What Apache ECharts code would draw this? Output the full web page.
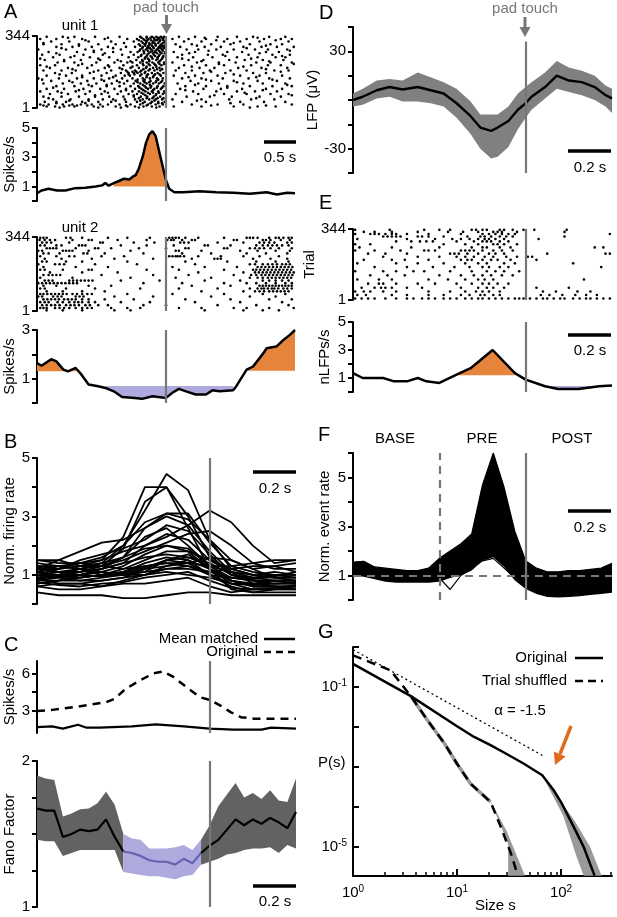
<!DOCTYPE html>
<html>
<head>
<meta charset="utf-8">
<script src="https://cdn.jsdelivr.net/npm/echarts@6/dist/echarts.min.js"></script>
<style>
html, body { margin: 0; padding: 0; background: #fff; }
#main { width: 617px; height: 917px; }
</style>
</head>
<body>
<div id="main"></div>
<script>
var FONT = "Liberation Sans, Arial, Helvetica, sans-serif";
var ORANGE = "#e6843c";
var PURPLE_BAND = "#aeaadd";
var PURPLE_LINE = "#6661b0";
var EVENT_GRAY = "#777";

// ---- A: unit 1 raster, rows of [trial, spike times (s)]
var unit1Rows = [
  [340, [-1.85,-1.6,-1.42,-1.1,-0.72,-0.4,-0.3,-0.22,-0.15,-0.08,-0.03,0.2,0.45,0.8,1.1,1.35,1.6,1.85]],
  [330, [-1.95,-1.7,-1.3,-0.95,-0.6,-0.45,-0.35,-0.27,-0.18,-0.12,-0.05,0.1,0.35,0.62,0.95,1.25,1.52,1.78,1.95]],
  [318, [-1.78,-1.5,-1.2,-0.85,-0.5,-0.38,-0.3,-0.2,-0.1,-0.02,0.28,0.55,0.9,1.15,1.45,1.9]],
  [305, [-1.9,-1.62,-1.35,-1.05,-0.78,-0.42,-0.33,-0.25,-0.16,-0.07,0.15,0.4,0.7,1.0,1.3,1.62,1.8]],
  [292, [-1.7,-1.45,-1.15,-0.9,-0.62,-0.48,-0.36,-0.28,-0.2,-0.11,-0.04,0.22,0.6,0.85,1.2,1.48,1.72,1.98]],
  [280, [-1.98,-1.55,-1.25,-1.0,-0.7,-0.4,-0.31,-0.23,-0.14,-0.06,0.32,0.5,0.78,1.05,1.38,1.58,1.88]],
  [268, [-1.82,-1.38,-1.12,-0.82,-0.55,-0.44,-0.34,-0.24,-0.17,-0.09,-0.01,0.12,0.45,0.95,1.18,1.55,1.75]],
  [255, [-1.92,-1.65,-1.28,-0.98,-0.68,-0.5,-0.38,-0.29,-0.19,-0.1,0.25,0.65,0.88,1.28,1.65,1.92]],
  [243, [-1.75,-1.48,-1.18,-0.88,-0.58,-0.43,-0.32,-0.22,-0.13,-0.05,0.18,0.42,0.72,1.1,1.42,1.7,1.85]],
  [230, [-1.88,-1.58,-1.32,-1.02,-0.75,-0.46,-0.37,-0.26,-0.15,-0.08,0.35,0.58,0.98,1.22,1.5,1.82]],
  [218, [-1.68,-1.42,-1.08,-0.8,-0.6,-0.52,-0.4,-0.3,-0.21,-0.12,-0.03,0.1,0.48,0.82,1.08,1.4,1.62,1.95]],
  [205, [-1.95,-1.72,-1.36,-1.15,-0.9,-0.66,-0.45,-0.35,-0.25,-0.16,-0.07,0.28,0.62,0.9,1.32,1.58,1.78]],
  [192, [-1.8,-1.52,-1.22,-0.95,-0.72,-0.55,-0.42,-0.31,-0.2,-0.1,0.2,0.52,0.75,1.12,1.48,1.88]],
  [180, [-1.9,-1.62,-1.4,-1.05,-0.85,-0.62,-0.48,-0.38,-0.27,-0.18,-0.09,0.15,0.4,0.68,1.0,1.25,1.68,1.9]],
  [168, [-1.72,-1.46,-1.18,-0.92,-0.7,-0.58,-0.5,-0.44,-0.33,-0.22,-0.13,-0.04,0.3,0.58,0.92,1.35,1.55]],
  [155, [-1.85,-1.55,-1.3,-1.0,-0.78,-0.64,-0.56,-0.4,-0.3,-0.19,-0.08,0.12,0.45,0.8,1.15,1.45,1.8]],
  [142, [-1.98,-1.66,-1.38,-1.12,-0.88,-0.68,-0.52,-0.36,-0.25,-0.14,-0.05,0.25,0.55,0.88,1.28,1.6,1.92]],
  [130, [-1.78,-1.5,-1.22,-0.96,-0.76,-0.6,-0.47,-0.35,-0.24,-0.15,-0.06,0.38,0.7,1.05,1.42,1.72]],
  [118, [-1.9,-1.6,-1.32,-1.08,-0.84,-0.65,-0.5,-0.4,-0.3,-0.2,-0.11,-0.02,0.18,0.5,0.82,1.2,1.5,1.85]],
  [105, [-1.7,-1.42,-1.15,-0.92,-0.72,-0.55,-0.43,-0.33,-0.23,-0.13,-0.04,0.3,0.62,0.95,1.3,1.65,1.95]],
  [92, [-1.85,-1.58,-1.28,-1.02,-0.8,-0.62,-0.48,-0.38,-0.28,-0.18,-0.08,0.22,0.58,0.85,1.18,1.55,1.8]],
  [80, [-1.95,-1.68,-1.4,-1.18,-0.95,-0.7,-0.52,-0.42,-0.32,-0.22,-0.12,-0.03,0.42,0.78,1.1,1.38,1.72]],
  [68, [-1.8,-1.52,-1.25,-1.0,-0.75,-0.58,-0.45,-0.35,-0.25,-0.15,-0.05,0.15,0.5,0.9,1.25,1.62,1.9]],
  [55, [-1.9,-1.62,-1.35,-1.1,-0.88,-0.66,-0.5,-0.39,-0.29,-0.19,-0.09,0.32,0.68,1.02,1.45,1.78]],
  [42, [-1.75,-1.48,-1.2,-0.98,-0.82,-0.64,-0.48,-0.36,-0.26,-0.16,-0.06,0.1,0.55,0.98,1.32,1.68]],
  [30, [-1.88,-1.7,-1.55,-1.3,-1.05,-0.85,-0.62,-0.45,-0.33,-0.22,-0.12,-0.02,0.25,0.62,1.15,1.52,1.85]],
  [18, [-1.95,-1.82,-1.6,-1.45,-1.32,-1.15,-1.02,-0.9,-0.72,-0.55,-0.4,-0.28,-0.16,-0.05,0.4,0.8,1.2,1.95]],
  [8, [-1.85,-1.72,-1.58,-1.42,-1.12,-0.98,-0.78,-0.6,-0.48,-0.35,-0.22,-0.1,0.12,0.55,1.05,1.42,1.7]]
];
// extra spikes, offset rows, so the raster is less regular
var unit1Extra = [
  [336, [-1.52,-0.9,-0.38,-0.3,-0.24,-0.19,-0.13,-0.1,-0.06,-0.01,0.6,1.42]],
  [324, [-1.25,-0.42,-0.33,-0.29,-0.23,-0.17,-0.14,-0.09,-0.04,0.78,1.7]],
  [311, [-1.9,-0.65,-0.36,-0.31,-0.26,-0.21,-0.18,-0.12,-0.05,-0.01,1.05]],
  [298, [-1.35,-0.4,-0.32,-0.27,-0.22,-0.16,-0.09,-0.06,-0.02,0.48,1.55]],
  [286, [-1.62,-0.82,-0.37,-0.29,-0.25,-0.19,-0.12,-0.08,-0.03,1.25]],
  [274, [-1.12,-0.41,-0.35,-0.28,-0.21,-0.16,-0.11,-0.05,0.66,1.92]],
  [262, [-1.7,-0.95,-0.34,-0.27,-0.2,-0.14,-0.07,-0.02,0.36,1.45]],
  [249, [-1.42,-0.39,-0.3,-0.24,-0.17,-0.11,-0.04,0.92,1.8]],
  [236, [-1.95,-1.05,-0.33,-0.28,-0.21,-0.13,-0.06,0.25,1.32]],
  [224, [-1.58,-0.7,-0.55,-0.36,-0.26,-0.1,0.55,1.6]],
  [211, [-1.3,-0.36,-0.27,-0.18,-0.1,-0.03,0.82,1.98]],
  [198, [-1.85,-0.88,-0.52,-0.3,-0.15,0.4,1.2]],
  [186, [-1.45,-0.68,-0.35,-0.25,-0.14,-0.06,1.55]],
  [174, [-1.12,-0.6,-0.52,-0.46,-0.4,-0.32,0.7,1.78]],
  [161, [-1.65,-0.58,-0.49,-0.38,-0.28,-0.17,-0.1,1.05]],
  [148, [-1.3,-0.82,-0.3,-0.2,0.35,1.4]],
  [136, [-1.92,-1.0,-0.44,-0.33,-0.12,0.62,1.65]],
  [124, [-1.45,-0.72,-0.44,-0.33,-0.26,-0.16,-0.08,1.1]],
  [111, [-1.2,-0.92,-0.36,-0.25,0.45,1.88]],
  [98, [-1.75,-0.41,-0.31,-0.24,-0.14,-0.06,0.95]],
  [86, [-1.35,-0.62,-0.35,-0.2,0.3,1.5]],
  [74, [-1.62,-0.9,-0.38,-0.28,-0.2,-0.11,-0.02,1.22]],
  [62, [-1.1,-0.5,-0.32,-0.16,0.75,1.95]],
  [48, [-1.82,-0.42,-0.3,-0.21,-0.13,-0.04,1.4]],
  [36, [-1.5,-1.2,-0.78,-0.4,-0.18,0.48]],
  [24, [-1.7,-1.25,-0.36,-0.24,-0.12,-0.06,1.0]],
  [13, [-1.9,-1.5,-1.38,-1.22,-0.62,-0.3,0.7,1.55]],
  [3, [-1.65,-1.05,-0.7,-0.42,-0.15,1.3]]
];
var unit1RateT = [-2.0,-1.93,-1.82,-1.69,-1.56,-1.41,-1.25,-1.09,-0.99,-0.94,-0.89,-0.81,-0.73,-0.65,-0.57,-0.52,-0.47,-0.42,-0.36,-0.31,-0.26,-0.21,-0.16,-0.1,-0.05,0,0.05,0.13,0.26,0.52,0.78,1.04,1.3,1.56,1.72,1.88,2.0];
var unit1RateV = [0.53,0.72,0.84,0.72,0.72,0.88,0.91,1.0,1.07,1.23,1.05,1.23,1.37,1.53,1.47,1.65,1.77,2.23,3.05,3.98,4.56,4.79,4.44,3.28,2.35,1.42,0.84,0.6,0.6,0.67,0.6,0.56,0.49,0.6,0.44,0.56,0.53];

// ---- A: unit 2
var unit2Rows = [
  [340, [-1.95,-1.9,-1.85,-1.55,-1.48,-1.3,-0.9,-0.6,-0.25,0.05,0.1,0.15,0.2,0.3,0.5,0.9,1.25,1.3,1.35,1.42,1.6,1.7,1.75,1.82,1.9,1.95]],
  [330, [-1.96,-1.88,-1.8,-1.72,-1.45,-1.2,-1.15,-0.75,-0.3,0.02,0.08,0.12,0.25,0.4,0.45,1.05,1.1,1.5,1.55,1.62,1.78,1.92]],
  [318, [-1.92,-1.85,-1.78,-1.5,-1.02,-0.98,-0.5,-0.18,0.22,0.28,0.35,0.8,1.2,1.45,1.52,1.6,1.68,1.88,1.95]],
  [305, [-1.95,-1.88,-1.7,-1.62,-1.35,-1.3,-1.25,-0.7,-0.3,0.12,0.6,0.65,1.0,1.4,1.5,1.58,1.65,1.72,1.8,1.9]],
  [292, [-1.85,-1.8,-1.75,-1.7,-1.4,-1.1,-1.05,-0.85,-0.42,0.0,0.3,0.35,0.9,0.95,1.3,1.38,1.45,1.52,1.62,1.75,1.95]],
  [280, [-1.98,-1.92,-1.6,-1.55,-1.5,-1.45,-1.2,-0.55,0.15,0.2,0.55,1.15,1.42,1.7,1.92]],
  [268, [-1.9,-1.82,-1.65,-1.28,-1.22,-0.95,-0.35,0.25,0.7,1.25,1.55,1.88]],
  [255, [-1.95,-1.7,-1.5,-1.42,-1.0,-0.65,0.05,0.1,0.15,0.18,0.22,0.28,0.5,0.85,1.2,1.45,1.75]],
  [243, [-1.88,-1.62,-1.15,-0.8,-0.2,0.4,0.75,0.8,0.85,1.35,1.62,1.88]],
  [230, [-1.92,-1.85,-1.55,-1.3,-0.6,0.3,0.95,1.4,1.7,1.9]],
  [218, [-1.98,-1.72,-1.65,-1.58,-1.1,-0.45,0.45,1.3,1.38,1.5,1.58,1.65,1.72,1.8,1.86,1.92]],
  [205, [-1.9,-1.4,-0.9,0.1,0.6,1.1,1.42,1.48,1.54,1.6,1.66,1.72,1.78,1.84,1.9,1.96]],
  [192, [-1.95,-1.88,-1.6,-1.2,-1.15,-0.3,0.2,0.9,1.35,1.4,1.46,1.52,1.58,1.64,1.7,1.76,1.82,1.88,1.94]],
  [180, [-1.8,-1.3,-0.75,0.5,1.2,1.38,1.44,1.5,1.56,1.62,1.68,1.74,1.8,1.86,1.92,1.98]],
  [168, [-1.9,-1.82,-1.76,-1.7,-1.64,-1.0,-0.2,0.35,1.05,1.32,1.4,1.48,1.54,1.6,1.66,1.72,1.78,1.84,1.9,1.96]],
  [155, [-1.95,-1.45,-0.55,0.15,0.7,1.3,1.42,1.5,1.58,1.64,1.7,1.76,1.82,1.88,1.94]],
  [142, [-1.88,-1.82,-1.76,-1.5,-1.44,-1.38,-1.32,-1.26,-1.2,-1.14,-0.7,-0.1,0.6,1.15,1.5,1.6,1.7,1.8,1.9]],
  [130, [-1.98,-1.92,-1.86,-1.8,-1.74,-1.68,-1.62,-1.56,-1.5,-1.44,-1.38,-0.35,0.25,0.9,1.25,1.4,1.55,1.7,1.85,1.95]],
  [118, [-1.9,-1.7,-1.2,-0.85,0.4,1.0,1.45,1.5,1.55,1.6,1.65,1.7,1.75,1.8,1.85,1.9,1.95]],
  [105, [-1.95,-1.88,-1.55,-1.1,-0.4,0.2,0.8,1.3,1.42,1.48,1.52,1.58,1.64,1.68,1.74,1.82,1.88,1.95]],
  [92, [-1.85,-1.6,-1.3,-0.95,0.55,1.2,1.38,1.45,1.52,1.6,1.66,1.72,1.78,1.84,1.9]],
  [80, [-1.95,-1.9,-1.84,-1.78,-1.72,-1.66,-1.6,-1.54,-1.45,-1.38,-1.3,-1.22,-1.15,-0.6,0.1,0.9,1.5,1.85]],
  [68, [-1.98,-1.92,-1.75,-1.68,-1.62,-1.4,-1.34,-1.28,-0.8,-0.2,0.7,1.3,1.7]],
  [55, [-1.9,-1.84,-1.78,-1.72,-1.66,-1.58,-1.52,-1.46,-1.4,-1.3,-1.2,-0.95,-0.5,0.3,1.0,1.6,1.95]],
  [42, [-1.95,-1.88,-1.82,-1.68,-1.6,-1.5,-1.42,-1.36,-1.3,-1.2,-1.1,-0.7,-0.25,0.45,1.15,1.8]],
  [28, [-1.92,-1.85,-1.78,-1.72,-1.65,-1.55,-1.48,-1.42,-1.35,-1.25,-1.18,-1.05,-0.9,-0.35,0.0,0.8,1.4,1.9]],
  [15, [-1.95,-1.9,-1.85,-1.72,-1.65,-1.58,-1.5,-1.4,-1.3,-1.22,-1.15,-0.85,-0.6,-0.4,0.2,0.55,1.05,1.25,1.6,1.98]],
  [4, [-1.85,-1.6,-1.3,-0.8,-0.55,0.6,1.2,1.5,1.75]]
];
var unit2RateT = [-2.0,-1.93,-1.78,-1.7,-1.59,-1.52,-1.46,-1.4,-1.33,-1.2,-1.05,-0.94,-0.81,-0.68,-0.53,-0.37,-0.21,0,0.1,0.2,0.31,0.46,0.62,0.72,0.83,1.04,1.09,1.25,1.35,1.51,1.56,1.71,1.82,1.92,2.0];
var unit2RateV = [1.64,1.53,1.8,1.71,1.37,1.3,1.37,1.44,1.23,0.76,0.69,0.62,0.48,0.25,0.22,0.17,0.28,0.21,0.42,0.58,0.48,0.35,0.35,0.52,0.48,0.52,0.69,1.37,1.5,2.05,2.25,2.32,2.59,2.8,3.0];

// ---- B: normalized firing rate of single units
var bT = [-0.8,-0.7,-0.6,-0.5,-0.4,-0.3,-0.2,-0.1,0,0.1,0.2,0.3,0.4];
var bLines = [
  [1.3,1.2,1.4,1.6,2.0,3.2,4.45,3.9,2.2,1.2,1.0,0.9,0.9],
  [1.1,1.2,1.3,1.5,2.3,4.0,4.0,3.0,1.6,1.0,0.8,0.8,0.7],
  [0.9,1.0,1.1,1.3,1.9,3.5,4.0,2.6,1.2,0.8,0.7,0.8,0.8],
  [1.0,1.0,1.2,1.4,2.0,2.8,3.1,3.1,2.1,1.3,1.1,1.0,0.9],
  [1.2,1.5,1.8,2.1,2.2,2.6,3.1,2.9,2.2,1.5,1.2,1.3,1.1],
  [1.4,1.3,1.4,1.5,1.8,2.0,2.3,2.7,3.2,2.8,2.0,1.4,1.5],
  [1.0,1.1,1.2,1.3,1.5,1.8,2.1,2.4,2.5,2.0,1.4,1.2,1.2],
  [0.8,0.9,1.0,1.2,1.6,2.6,3.0,2.7,1.8,1.1,0.7,0.6,0.6],
  [1.5,1.5,1.3,1.3,1.6,2.3,2.6,2.0,1.3,0.9,0.8,0.7,0.7],
  [1.2,1.1,1.1,1.2,1.4,2.0,2.4,2.2,1.5,1.1,0.9,0.9,0.8],
  [0.9,1.0,1.0,1.1,1.3,1.7,2.0,1.9,1.3,0.8,0.6,0.6,0.5],
  [0.7,0.8,0.9,1.0,1.2,1.5,1.8,1.8,1.2,0.7,0.5,0.5,0.5],
  [1.1,1.0,1.1,1.2,1.4,1.6,1.7,1.6,1.3,1.1,1.0,1.1,1.0],
  [0.6,0.7,0.7,0.8,0.9,1.2,1.5,1.4,1.0,0.6,0.4,0.4,0.4],
  [1.0,1.0,0.9,1.0,1.1,1.3,1.4,1.3,1.1,0.9,0.8,0.8,0.8],
  [0.4,0.3,0.3,0.3,0.2,0.2,0.3,0.4,0.4,0.3,0.3,0.3,0.3],
  [0.6,0.5,0.5,0.6,0.7,0.7,0.8,0.9,0.6,0.4,0.5,0.5,0.5],
  [1.3,1.3,1.2,1.1,1.0,1.1,1.2,1.2,1.1,1.2,1.3,1.3,1.4],
  [1.5,1.4,1.4,1.3,1.2,1.3,1.4,1.4,1.3,1.3,1.4,1.5,1.5],
  [0.8,0.8,0.8,0.9,1.0,1.0,1.1,1.0,0.9,0.7,0.7,0.7,0.7],
  [1.0,0.9,0.8,0.8,0.9,1.0,1.2,1.3,1.0,0.9,0.9,1.0,1.0],
  [0.9,0.7,0.7,0.6,0.8,1.0,1.3,1.5,1.2,0.8,0.6,0.6,0.6],
  [1.2,1.2,1.3,1.4,1.6,1.9,2.0,1.8,1.5,1.2,1.0,1.0,1.0],
  [0.7,0.8,1.0,1.1,1.0,1.1,1.5,1.7,1.2,0.5,0.4,0.5,0.6],
  [1.1,1.3,1.2,1.0,1.0,1.2,1.3,1.4,1.6,1.5,1.2,0.9,0.9],
  [1.0,1.2,1.5,1.7,1.9,2.2,2.7,2.5,1.7,1.0,0.9,0.8,0.8],
  [0.85,0.95,0.9,1.0,1.1,1.4,1.6,1.5,1.0,0.7,0.65,0.7,0.75],
  [1.25,1.1,1.0,0.95,1.05,1.25,1.5,1.6,1.4,1.0,0.85,0.95,1.1],
  [0.75,0.65,0.6,0.7,0.75,0.9,1.0,1.1,0.8,0.55,0.5,0.55,0.65]
];

// ---- C: spike rates and Fano factor
var cOrigT = [-0.8,-0.73,-0.61,-0.48,-0.44,-0.39,-0.325,-0.26,-0.216,-0.17,-0.106,-0.044,0,0.05,0.097,0.144,0.206,0.4];
var cOrigV = [2.95,3.05,3.32,3.67,3.94,4.74,5.41,6.0,6.16,5.73,4.87,4.07,3.86,3.4,2.87,2.46,2.33,2.33];
var cMatchT = [-0.8,-0.73,-0.68,-0.61,-0.57,-0.51,-0.36,-0.25,-0.12,0,0.11,0.24,0.285,0.4];
var cMatchV = [1.66,1.71,1.53,1.85,1.61,1.61,1.71,1.87,1.71,1.53,1.45,1.45,1.61,1.53];
var fanoT = [-0.8,-0.76,-0.72,-0.68,-0.64,-0.6,-0.56,-0.52,-0.48,-0.44,-0.4,-0.36,-0.32,-0.28,-0.24,-0.2,-0.16,-0.12,-0.08,-0.04,0,0.04,0.08,0.12,0.16,0.2,0.24,0.28,0.32,0.36,0.4];
var fanoMean = [1.675,1.66,1.66,1.48,1.5,1.53,1.52,1.53,1.6,1.48,1.38,1.37,1.35,1.32,1.31,1.31,1.29,1.33,1.3,1.37,1.42,1.46,1.53,1.6,1.56,1.6,1.57,1.61,1.58,1.54,1.65];
var fanoHi = [1.9,1.88,1.87,1.62,1.64,1.67,1.675,1.71,1.79,1.7,1.5,1.47,1.46,1.4,1.4,1.4,1.41,1.425,1.39,1.46,1.56,1.69,1.77,1.85,1.75,1.78,1.74,1.8,1.73,1.72,1.88];
var fanoLo = [1.46,1.45,1.45,1.35,1.37,1.39,1.39,1.39,1.39,1.39,1.24,1.23,1.22,1.21,1.21,1.2,1.19,1.21,1.22,1.29,1.31,1.33,1.36,1.37,1.39,1.4,1.4,1.41,1.37,1.425,1.4];

// ---- D: LFP
var lfpT = [-0.8,-0.755,-0.69,-0.63,-0.57,-0.5,-0.44,-0.38,-0.32,-0.255,-0.21,-0.16,-0.13,-0.08,-0.036,0,0.027,0.09,0.144,0.2,0.26,0.32,0.37,0.4];
var lfpMean = [0,2,6,8,6.5,8,6,4,-2,-10,-17,-19,-17,-13,-6,-2,2,8,15,12,11,8,3,1];
var lfpHi = [4,7,12,13,12,17,14,11,7,-1,-9,-9,-9,-4,4,8,11,17,24,20,18,15,9,7];
var lfpLo = [-4,-3,1,2,-1,-1,-2,-4,-11,-21,-30,-36,-35,-29,-18,-11,-6,1,7,5,3,0,-4,-8];

// ---- E: nLFP raster and rate
var nlfpRows = [
  [340, [-0.79,-0.63,-0.47,-0.4,-0.35,-0.25,-0.23,-0.2,-0.18,-0.12,-0.1,-0.06,-0.01,0.04,0.19]],
  [330, [-0.75,-0.7,-0.62,-0.5,-0.36,-0.29,-0.22,-0.15,-0.13,-0.11,-0.04,0.18]],
  [320, [-0.79,-0.72,-0.7,-0.68,-0.65,-0.62,-0.6,-0.55,-0.45,-0.3,-0.2,-0.17,-0.14,-0.11,-0.08,-0.05,0.39]],
  [308, [-0.66,-0.64,-0.62,-0.6,-0.58,-0.5,-0.48,-0.45,-0.38,-0.27,-0.21,-0.19,-0.16,-0.12,-0.09,-0.06,0.18]],
  [296, [-0.78,-0.55,-0.42,-0.34,-0.3,-0.26,-0.22,-0.19,-0.17,-0.14,-0.1,0.06]],
  [284, [-0.6,-0.53,-0.49,-0.46,-0.43,-0.32,-0.24,-0.2,-0.18,-0.16,-0.12,-0.08]],
  [270, [-0.79,-0.72,-0.38,-0.28,-0.22,-0.15,-0.13,-0.1,-0.04]],
  [255, [-0.77,-0.62,-0.53,-0.4,-0.25,-0.2,-0.18,-0.12,-0.07,0.32,0.36]],
  [240, [-0.79,-0.7,-0.58,-0.47,-0.45,-0.42,-0.3,-0.28,-0.26,-0.24,-0.2,-0.15,-0.11,-0.06]],
  [225, [-0.73,-0.65,-0.55,-0.35,-0.33,-0.31,-0.27,-0.22,-0.17,-0.14,-0.1,0.1,0.37,0.39]],
  [210, [-0.66,-0.5,-0.4,-0.32,-0.28,-0.24,-0.19,-0.15,-0.09,-0.04,0.01,0.03]],
  [195, [-0.75,-0.62,-0.56,-0.45,-0.3,-0.27,-0.25,-0.2,-0.16,-0.13,-0.07,0.05]],
  [178, [-0.78,-0.6,-0.5,-0.38,-0.28,-0.22,-0.18,-0.1,-0.05,0.22]],
  [160, [-0.7,-0.55,-0.43,-0.33,-0.26,-0.2,-0.17,-0.12,-0.08,0.35]],
  [140, [-0.79,-0.66,-0.6,-0.52,-0.47,-0.35,-0.25,-0.18,-0.14,-0.1,-0.03]],
  [120, [-0.72,-0.64,-0.56,-0.4,-0.3,-0.24,-0.2,-0.16,-0.11,-0.06]],
  [100, [-0.78,-0.68,-0.62,-0.45,-0.36,-0.28,-0.22,-0.19,-0.15,0.27]],
  [80, [-0.73,-0.68,-0.66,-0.6,-0.5,-0.42,-0.32,-0.25,-0.2,-0.17,-0.13,-0.08]],
  [60, [-0.76,-0.7,-0.67,-0.65,-0.62,-0.55,-0.48,-0.3,-0.22,-0.18,-0.15,-0.1,0.05,0.2]],
  [42, [-0.79,-0.75,-0.72,-0.66,-0.6,-0.45,-0.35,-0.28,-0.23,-0.2,-0.17,-0.12,0.08,0.14,0.24,0.3]],
  [25, [-0.78,-0.74,-0.62,-0.55,-0.45,-0.38,-0.3,-0.26,-0.21,-0.19,-0.15,-0.12,0.07,0.11,0.17,0.23,0.28,0.33]],
  [8, [-0.79,-0.76,-0.73,-0.7,-0.65,-0.6,-0.55,-0.52,-0.48,-0.45,-0.42,-0.38,-0.35,-0.32,-0.28,-0.25,-0.22,-0.2,-0.17,-0.14,-0.11,-0.08,-0.05,-0.03,-0.01,0.02,0.05,0.08,0.1,0.13,0.16,0.18,0.22,0.25,0.28,0.3,0.33,0.36,0.39]]
];
var nlfpRateT = [-0.8,-0.755,-0.66,-0.61,-0.55,-0.5,-0.46,-0.4,-0.32,-0.255,-0.153,-0.05,0,0.09,0.15,0.245,0.34,0.4];
var nlfpRateV = [1.35,1.0,1.0,0.76,0.76,1.0,0.76,0.65,1.24,1.7,3.0,1.35,0.88,0.41,0.22,0.22,0.41,0.46];

// ---- F: normalized event rate (envelope of all sites plus an outlier)
var fT = [-0.8,-0.75,-0.7,-0.65,-0.6,-0.55,-0.5,-0.45,-0.4,-0.35,-0.3,-0.25,-0.2,-0.15,-0.1,-0.05,0,0.05,0.1,0.15,0.2,0.25,0.3,0.35,0.4];
var fUpper = [1.55,1.58,1.35,1.3,1.25,1.2,1.2,1.3,1.7,2.0,2.3,2.7,4.7,6.0,4.6,2.8,1.6,1.3,1.15,1.15,1.2,1.2,1.25,1.3,1.5];
var fLower = [1.0,0.95,0.85,0.75,0.7,0.7,0.7,0.7,0.75,0.9,1.0,1.2,1.6,1.75,1.35,0.8,0.45,0.25,0.12,0.1,0.12,0.15,0.2,0.25,0.3];
var fDip = [1.2,1.15,1.0,0.95,0.9,0.85,0.8,0.8,0.9,0.43,1.0,1.3,1.6,1.7,1.3,0.9,0.6,0.45,0.4,0.45,0.6,0.8,1.0,1.1,1.42];

// ---- G: avalanche size distributions
var gOrigS = [1,3.6,10,14.6,21,30,44,66,85,102,132,165,210];
var gOrigP = [0.38,0.059,0.0104,0.0056,0.0035,0.0021,0.0012,6.2e-4,2.6e-4,1.2e-4,3.2e-5,1e-5,1.9e-6];
var gShufS = [1,2.3,3.6,5.2,7.6,10,13.5,21,26.3,33,38];
var gShufP = [0.62,0.26,0.059,0.0147,0.0038,0.0012,3.8e-4,1.33e-4,3.2e-5,6.8e-6,2.1e-6];
var gAlphaS = [1,68];
var gAlphaP = [0.86,0.00186];
var gOrigBandS = [66,135,190,245,165,140,105,66];
var gOrigBandP = [6.2e-4,4.5e-5,1e-5,1.9e-6,1.9e-6,6e-6,6e-5,6.2e-4];
var gShufBandS = [21,30,45,31,31,21];
var gShufBandP = [1.4e-4,2.5e-5,1.9e-6,1.9e-6,1.2e-5,1.4e-4];
var gMajorTicks = [1,10,100];
var gMinorTicks = [2,3,4,5,6,7,8,9,20,30,40,50,60,70,80,90,200,300];
var gYTicks = [1,0.1,0.01,0.001,1e-4,1e-5];
var gYLabels = [0.1,1e-5];

// ---------- helpers
function pairs(xs, ys) { return xs.map(function (x, i) { return [x, ys[i]]; }); }
function logPairs(xs, ys) { return xs.map(function (x, i) { return [Math.log10(x), Math.log10(ys[i])]; }); }
function rasterData(rows) {
  var d = [];
  rows.forEach(function (r) { r[1].forEach(function (t) { d.push([t, r[0]]); }); });
  return d;
}
function bandPts(xs, lo, hi) {
  var p = [], i;
  for (i = 0; i < xs.length; i++) p.push([xs[i], hi[i]]);
  for (i = xs.length - 1; i >= 0; i--) p.push([xs[i], lo[i]]);
  return p;
}
function slice(arr, a, b) { return arr.slice(a, b + 1); }
function levelPts(xs, ys, t1, t2, level) {
  var p = [[t1, level]];
  xs.forEach(function (x, i) { if (x >= t1 - 1e-9 && x <= t2 + 1e-9) p.push([x, ys[i]]); });
  p.push([t2, level]);
  return p;
}
function poly(gi, pts, color, z) {
  return {
    type: 'custom', xAxisIndex: gi, yAxisIndex: gi, z: z || 1, silent: true,
    data: [pts[0]],
    renderItem: function (params, api) {
      return {
        type: 'polygon',
        shape: { points: pts.map(function (p) { return api.coord(p); }) },
        style: { fill: color }
      };
    }
  };
}
function line(gi, data, color, width, dash, z, extra) {
  var s = {
    type: 'line', xAxisIndex: gi, yAxisIndex: gi, data: data, symbol: 'none', silent: true,
    z: z || 3, lineStyle: { color: color, width: width, type: dash || 'solid' }
  };
  return Object.assign(s, extra || {});
}
function raster(gi, rows, extra) {
  return Object.assign({
    type: 'scatter', xAxisIndex: gi, yAxisIndex: gi, data: rasterData(rows), symbol: 'circle',
    symbolSize: 2.6, silent: true, z: 2, itemStyle: { color: '#000', opacity: 1 }
  }, extra || {});
}
function evLine(data) {
  return {
    silent: true, symbol: ['none', 'none'], animation: false, label: { show: false },
    lineStyle: { color: EVENT_GRAY, width: 2.2, type: 'solid' },
    data: data || [{ xAxis: 0 }]
  };
}
function yAx(gi, min, max, ticks, labels, name, gap) {
  return {
    gridIndex: gi, type: 'value', min: min, max: max,
    axisLine: { show: true, onZero: false, lineStyle: { color: '#000', width: 2 } },
    axisTick: { show: true, length: 5, customValues: ticks, lineStyle: { color: '#000', width: 2 } },
    axisLabel: { show: true, customValues: labels, color: '#000', fontSize: 15, fontFamily: FONT, margin: 7 },
    splitLine: { show: false },
    name: name, nameLocation: 'middle', nameGap: gap, nameRotate: 90,
    nameTextStyle: { color: '#000', fontSize: 15, fontFamily: FONT }
  };
}

// ---------- layout
var gRect = { left: 353, top: 647, width: 259, height: 229 };
var grids = [
  { left: 37, top: 36, width: 258, height: 72 },    // 0 unit 1 raster
  { left: 37, top: 128, width: 258, height: 73 },   // 1 unit 1 rate
  { left: 37, top: 237, width: 258, height: 74 },   // 2 unit 2 raster
  { left: 37, top: 330, width: 258, height: 73 },   // 3 unit 2 rate
  { left: 37, top: 458, width: 259, height: 146 },  // 4 B
  { left: 37, top: 661, width: 259, height: 72 },   // 5 C spikes
  { left: 37, top: 761, width: 259, height: 146 },  // 6 C fano
  { left: 353, top: 27, width: 259, height: 146 },  // 7 D
  { left: 353, top: 229, width: 259, height: 71 },  // 8 E raster
  { left: 353, top: 322, width: 259, height: 70 },  // 9 E rate
  { left: 353, top: 453, width: 259, height: 147 }, // 10 F
  gRect,                                            // 11 G
  gRect                                             // 12 G minor ticks
].map(function (g) { return Object.assign({ outerBoundsMode: 'none', containLabel: false }, g); });

var xRanges = [[-2, 2], [-2, 2], [-2, 2], [-2, 2], [-0.8, 0.4], [-0.8, 0.4], [-0.8, 0.4], [-0.8, 0.4], [-0.8, 0.4], [-0.8, 0.4], [-0.8, 0.4]];
var xAxes = xRanges.map(function (r, i) {
  return { gridIndex: i, type: 'value', min: r[0], max: r[1], show: false };
});
var gxMax = 2.49;
var supRich = {
  b: { fontSize: 15, fontFamily: FONT, color: '#000', lineHeight: 18 },
  s: { fontSize: 10, fontFamily: FONT, color: '#000', verticalAlign: 'top', lineHeight: 18, padding: [0, 0, 8, 0] }
};
xAxes.push({
  gridIndex: 11, type: 'value', min: 0, max: gxMax, position: 'bottom',
  axisLine: { show: true, onZero: false, lineStyle: { color: '#000', width: 2 } },
  axisTick: { show: true, inside: true, length: 7, customValues: gMajorTicks.map(Math.log10), lineStyle: { color: '#000', width: 2 } },
  axisLabel: {
    customValues: gMajorTicks.map(Math.log10), margin: 8,
    formatter: function (v) { return '{b|10}{s|' + Math.round(v) + '}'; }, rich: supRich
  },
  splitLine: { show: false }
});
xAxes.push({
  gridIndex: 12, type: 'value', min: 0, max: gxMax, position: 'bottom',
  axisLine: { show: false, onZero: false },
  axisTick: { show: true, inside: true, length: 4, customValues: gMinorTicks.map(Math.log10), lineStyle: { color: '#000', width: 1.5 } },
  axisLabel: { show: false }, splitLine: { show: false }
});

var yAxes = [
  yAx(0, 1, 344, [1, 344], [1, 344], 'Trial', 10),
  yAx(1, 0, 5, [0, 1, 2, 3, 4, 5], [1, 3, 5], 'Spikes/s', 16),
  yAx(2, 1, 344, [1, 344], [1, 344], 'Trial', 10),
  yAx(3, 0, 3, [0, 1, 2, 3], [1, 3], 'Spikes/s', 17),
  yAx(4, 0, 5, [0, 1, 2, 3, 4, 5], [1, 3, 5], 'Norm. firing rate', 17),
  yAx(5, 1.18, 7, [3, 4.5, 6], [3, 6], 'Spikes/s', 18),
  yAx(6, 1, 2, [1, 1.25, 1.5, 1.75, 2], [1, 2], 'Fano Factor', 14),
  yAx(7, -45, 45, [-45, -30, -15, 0, 15, 30, 45], [-30, 30], 'LFP (\u03bcV)', 20),
  yAx(8, 1, 344, [1, 344], [1, 344], 'Trial', 10),
  yAx(9, 0, 5, [0, 1, 2, 3, 4, 5], [1, 3, 5], 'nLFPs/s', 21),
  yAx(10, 0, 6, [0, 1, 2, 3, 4, 5, 6], [1, 3, 5], 'Norm. event rate', 21),
  {
    gridIndex: 11, type: 'value', min: -5.73, max: 0,
    axisLine: { show: true, onZero: false, lineStyle: { color: '#000', width: 2 } },
    axisTick: { show: true, inside: true, length: 6, customValues: gYTicks.map(Math.log10), lineStyle: { color: '#000', width: 2 } },
    axisLabel: {
      customValues: gYLabels.map(Math.log10), margin: 6,
      formatter: function (v) { return '{b|10}{s|' + Math.round(v) + '}'; }, rich: supRich
    },
    splitLine: { show: false }
  },
  { gridIndex: 12, type: 'value', min: -5.73, max: 0, show: false }
];

// ---------- series
var series = [];
// A unit 1
series.push(raster(0, unit1Rows, { markLine: evLine() }));
series.push(raster(0, unit1Extra));
series.push(poly(1, levelPts(unit1RateT, unit1RateV, -0.81, 0, 1.0), ORANGE));
series.push(line(1, pairs(unit1RateT, unit1RateV), '#000', 2.5, null, 3, { markLine: evLine() }));
// A unit 2
series.push(raster(2, unit2Rows, { markLine: evLine() }));
series.push(poly(3, levelPts(unit2RateT, unit2RateV, -2.0, -1.33, 1.3), ORANGE));
series.push(poly(3, levelPts(unit2RateT, unit2RateV, 1.25, 2.0, 1.33), ORANGE));
series.push(poly(3, levelPts(unit2RateT, unit2RateV, -0.94, 1.04, 0.7), PURPLE_BAND));
series.push(line(3, pairs(unit2RateT, unit2RateV), '#000', 2.5, null, 3, { markLine: evLine() }));
// B
bLines.forEach(function (vals, k) {
  series.push(line(4, pairs(bT, vals), '#000', 1.8, null, 3, k === 0 ? { markLine: evLine() } : null));
});
// C spikes
series.push(line(5, pairs(cOrigT, cOrigV), '#000', 2.5, [8, 6], 3, { markLine: evLine() }));
series.push(line(5, pairs(cMatchT, cMatchV), '#000', 2.2));
// C fano: grey outside the pre-touch dip, purple inside
series.push(poly(6, bandPts(slice(fanoT, 0, 10), slice(fanoLo, 0, 10), slice(fanoHi, 0, 10)), '#626262'));
series.push(poly(6, bandPts(slice(fanoT, 19, 30), slice(fanoLo, 19, 30), slice(fanoHi, 19, 30)), '#626262'));
series.push(poly(6, bandPts(slice(fanoT, 10, 19), slice(fanoLo, 10, 19), slice(fanoHi, 10, 19)), PURPLE_BAND));
series.push(line(6, pairs(slice(fanoT, 0, 10), slice(fanoMean, 0, 10)), '#000', 2.2, null, 3, { markLine: evLine() }));
series.push(line(6, pairs(slice(fanoT, 10, 19), slice(fanoMean, 10, 19)), PURPLE_LINE, 2.2));
series.push(line(6, pairs(slice(fanoT, 19, 30), slice(fanoMean, 19, 30)), '#000', 2.2));
// D
series.push(poly(7, bandPts(lfpT, lfpLo, lfpHi), '#808080'));
series.push(line(7, pairs(lfpT, lfpMean), '#000', 2.4, null, 3, {
  markLine: evLine([[{ coord: [0, 36] }, { coord: [0, -45] }]])
}));
// E
series.push(raster(8, nlfpRows, { markLine: evLine() }));
series.push(poly(9, levelPts(nlfpRateT, nlfpRateV, -0.32, -0.05, 1.2), ORANGE));
series.push(poly(9, levelPts(nlfpRateT, nlfpRateV, 0.09, 0.34, 0.42), PURPLE_BAND));
series.push(line(9, pairs(nlfpRateT, nlfpRateV), '#000', 2.5, null, 3, { markLine: evLine() }));
// F
series.push(poly(10, bandPts(fT, fLower, fUpper), '#000', 2));
series.push(line(10, pairs(fT, fUpper), '#000', 1.2));
series.push(line(10, pairs(fT, fDip), '#000', 1.2, null, 3, {
  markLine: evLine([
    { xAxis: 0 },
    { xAxis: -0.4, lineStyle: { color: EVENT_GRAY, width: 2.2, type: [8, 6] } },
    { yAxis: 1, lineStyle: { color: EVENT_GRAY, width: 2.2, type: [8, 6] } }
  ])
}));
// G (log10 of the values on linear axes)
series.push(poly(11, logPairs(gOrigBandS, gOrigBandP), '#9a9a9a'));
series.push(poly(11, logPairs(gShufBandS, gShufBandP), '#9a9a9a'));
series.push(line(11, logPairs(gAlphaS, gAlphaP), '#000', 1.3, [2, 3]));
series.push(line(11, logPairs(slice(gShufS, 2, 7), slice(gShufP, 2, 7)), '#9a9a9a', 3.5, null, 2));
series.push(line(11, logPairs(gShufS, gShufP), '#000', 2.5, [9, 6], 4));
series.push(line(11, logPairs(gOrigS, gOrigP), '#000', 2.5, null, 4));

// ---------- annotations
function txt(x, y, s, size, opts) {
  return {
    type: 'text', x: x, y: y, silent: true, z: 10,
    style: Object.assign({
      text: s, fontSize: size || 15, fontFamily: FONT, fill: '#000', align: 'left', verticalAlign: 'middle'
    }, opts || {})
  };
}
function seg(x1, y1, x2, y2, w, color, dash) {
  return {
    type: 'line', silent: true, z: 10, shape: { x1: x1, y1: y1, x2: x2, y2: y2 },
    style: { stroke: color || '#000', lineWidth: w || 2.5, lineDash: dash || null }
  };
}
function tri(pts, color) {
  return { type: 'polygon', silent: true, z: 10, shape: { points: pts }, style: { fill: color } };
}
var graphics = [
  txt(4, 12, 'A', 20), txt(4, 442, 'B', 20), txt(4, 645, 'C', 20),
  txt(319, 13, 'D', 20), txt(319, 203, 'E', 20), txt(318, 435, 'F', 20), txt(318, 632, 'G', 20),
  txt(80, 26, 'unit 1', 15, { align: 'center' }),
  txt(80, 228, 'unit 2', 15, { align: 'center' }),
  // pad touch markers
  txt(166, 8, 'pad touch', 15, { align: 'center', fill: EVENT_GRAY }),
  seg(166.5, 15, 166.5, 25, 3, EVENT_GRAY),
  tri([[161, 24], [172, 24], [166.5, 34]], EVENT_GRAY),
  txt(525, 9, 'pad touch', 15, { align: 'center', fill: EVENT_GRAY }),
  seg(525, 17, 525, 28, 3, EVENT_GRAY),
  tri([[519.5, 27], [530.5, 27], [525, 37]], EVENT_GRAY),
  // scale bars
  seg(264, 142, 296, 142, 3.5), txt(280, 158, '0.5 s', 15, { align: 'center' }),
  seg(253, 472, 296, 472, 3.5), txt(275, 489, '0.2 s', 15, { align: 'center' }),
  seg(253, 886, 296, 886, 3.5), txt(275, 902, '0.2 s', 15, { align: 'center' }),
  seg(568, 151, 611, 151, 3.5), txt(590, 168, '0.2 s', 15, { align: 'center' }),
  seg(568, 335, 611, 335, 3.5), txt(590, 351, '0.2 s', 15, { align: 'center' }),
  seg(568, 511, 611, 511, 3.5), txt(590, 528, '0.2 s', 15, { align: 'center' }),
  // F epochs
  txt(395, 439, 'BASE', 15, { align: 'center' }),
  txt(482, 439, 'PRE', 15, { align: 'center' }),
  txt(572, 439, 'POST', 15, { align: 'center' }),
  // C legend
  txt(258, 639, 'Mean matched', 15, { align: 'right' }), seg(264, 639, 295, 639, 2.5),
  txt(258, 652, 'Original', 15, { align: 'right' }), seg(264, 652, 295, 652, 2.5, '#000', [7, 5]),
  // G legend and notes
  txt(567, 658, 'Original', 15, { align: 'right' }), seg(575, 658, 603, 658, 2.5),
  txt(567, 681, 'Trial shuffled', 15, { align: 'right' }), seg(575, 681, 603, 681, 2.5, '#000', [8, 5]),
  txt(520, 711, '\u03b1 = -1.5', 15, { align: 'center' }),
  txt(318, 763, 'P(s)', 15, { align: 'left' }),
  txt(475, 906, 'Size s', 15, { align: 'left' }),
  seg(571, 726, 560, 754, 3.5, '#e06b1c'),
  tri([[555, 765], [565.5, 756.5], [553.8, 751.5]], '#e06b1c')
];

var chart = echarts.init(document.getElementById('main'), null, { renderer: 'canvas' });
chart.setOption({
  backgroundColor: '#fff',
  animation: false,
  textStyle: { fontFamily: FONT },
  grid: grids,
  xAxis: xAxes,
  yAxis: yAxes,
  series: series,
  graphic: graphics
});
</script>
</body>
</html>
